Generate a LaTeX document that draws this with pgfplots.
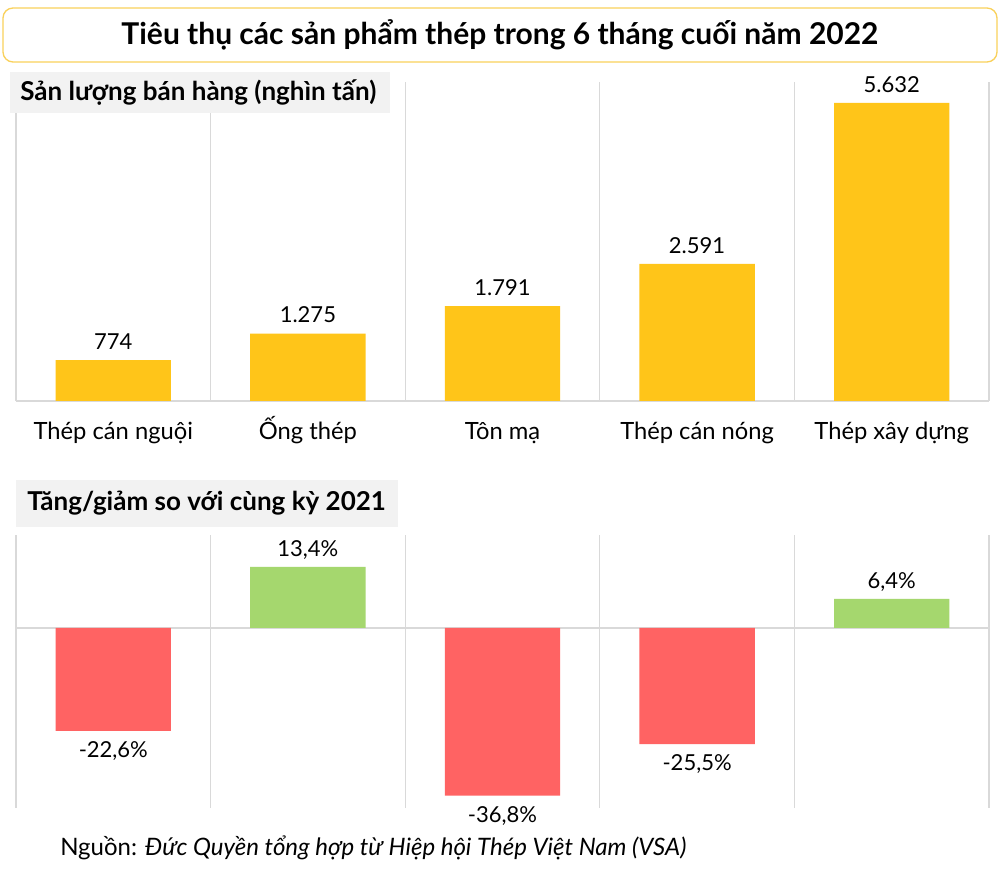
\documentclass[border=0pt]{standalone}
\usepackage{pgfplots}
\pgfplotsset{compat=1.18}
\usepackage{pgfplotstable}
\usepackage{fontspec}
\setmainfont{Lato}
\definecolor{barY}{HTML}{FFC519}
\definecolor{barR}{HTML}{FF6363}
\definecolor{barG}{HTML}{A5D76E}
\definecolor{gridc}{HTML}{D9D9D9}
\definecolor{boxg}{HTML}{F2F2F2}
\definecolor{titleB}{HTML}{F9D15C}

\pgfplotstableread{
x y lab
0 774 774
1 1275 1.275
2 1791 1.791
3 2591 2.591
4 5632 5.632
}\sales

\pgfplotstableread{
x y lab
0 -22.6 -22,6
2 -36.8 -36,8
3 -25.5 -25,5
}\neg

\pgfplotstableread{
x y lab
1 13.4 13,4
4 6.4 6,4
}\pos

\pgfplotsset{panel/.style={
  scale only axis, width=729.75pt,
  xmin=-0.5, xmax=4.5,
  axis line style={draw=none},
  xtick={0,1,2,3,4},
  minor xtick={-0.5,0.5,1.5,2.5,3.5,4.5},
  xminorgrids=true,
  minor grid style={gridc, line width=1pt},
  major tick length=0pt, minor tick length=0pt,
  ytick=\empty,
  extra y ticks={0}, extra y tick labels={},
  extra y tick style={grid=major, major grid style={gridc, line width=1pt}},
  ybar, bar width=86.5pt,
  point meta=explicit symbolic,
  clip=false,
  every node near coord/.append style={font=\fontsize{16.5}{20}\selectfont, text=black, anchor=base, inner sep=0pt, yshift=8pt},
}}

\begin{document}
\begin{tikzpicture}
\fill[white] (0,0) rectangle (750pt,654.75pt);
\path[use as bounding box] (0,0) rectangle (750pt,654.75pt);

\begin{axis}[panel,
  at={(12pt,354pt)}, anchor=south west,
  height=239.25pt, ymin=0, ymax=6029,
  xticklabels={Thép cán nguội, Ống thép, Tôn mạ, Thép cán nóng, Thép xây dựng},
  xticklabel style={font=\fontsize{17.8}{21}\selectfont, anchor=base, inner sep=0pt, yshift=-29pt},
  nodes near coords={\pgfplotspointmeta},
]
\addplot[fill=barY, draw=none, bar shift=0pt] table[x=x, y=y, meta=lab] {\sales};
\end{axis}

\begin{axis}[panel,
  at={(12pt,48.75pt)}, anchor=south west,
  height=204.75pt, ymin=-39.54, ymax=20.43,
  xticklabels={},
  nodes near coords={\pgfplotspointmeta\%},
]
\addplot[fill=barR, draw=none, bar shift=0pt,
  every node near coord/.append style={yshift=-28pt}] table[x=x, y=y, meta=lab] {\neg};
\addplot[fill=barG, draw=none, bar shift=0pt] table[x=x, y=y, meta=lab] {\pos};
\end{axis}

% title box
\draw[titleB, line width=1pt, rounded corners=7.5pt, fill=white] (2.25pt,608.25pt) rectangle (747.75pt,648.75pt);
\node at (375pt,628.5pt) {\fontsize{22.5}{27}\selectfont\bfseries Tiêu thụ các sản phẩm thép trong 6 tháng cuối năm 2022};

% panel labels
\fill[boxg] (7.5pt,570pt) rectangle (292.5pt,600.75pt);
\node[anchor=west, inner sep=0pt] at (15pt,585.5pt) {\fontsize{19.5}{23}\selectfont\bfseries Sản lượng bán hàng (nghìn tấn)};
\fill[boxg] (12pt,259.5pt) rectangle (298.5pt,294.75pt);
\node[anchor=west, inner sep=0pt] at (20.25pt,277.5pt) {\fontsize{19.5}{23}\selectfont\bfseries Tăng/giảm so với cùng kỳ 2021};

% source
\node[anchor=west, inner sep=0pt] at (45pt,18.75pt) {\fontsize{18}{21}\selectfont Nguồn: \itshape Đức Quyền tổng hợp từ Hiệp hội Thép Việt Nam (VSA)};
\end{tikzpicture}
\end{document}
